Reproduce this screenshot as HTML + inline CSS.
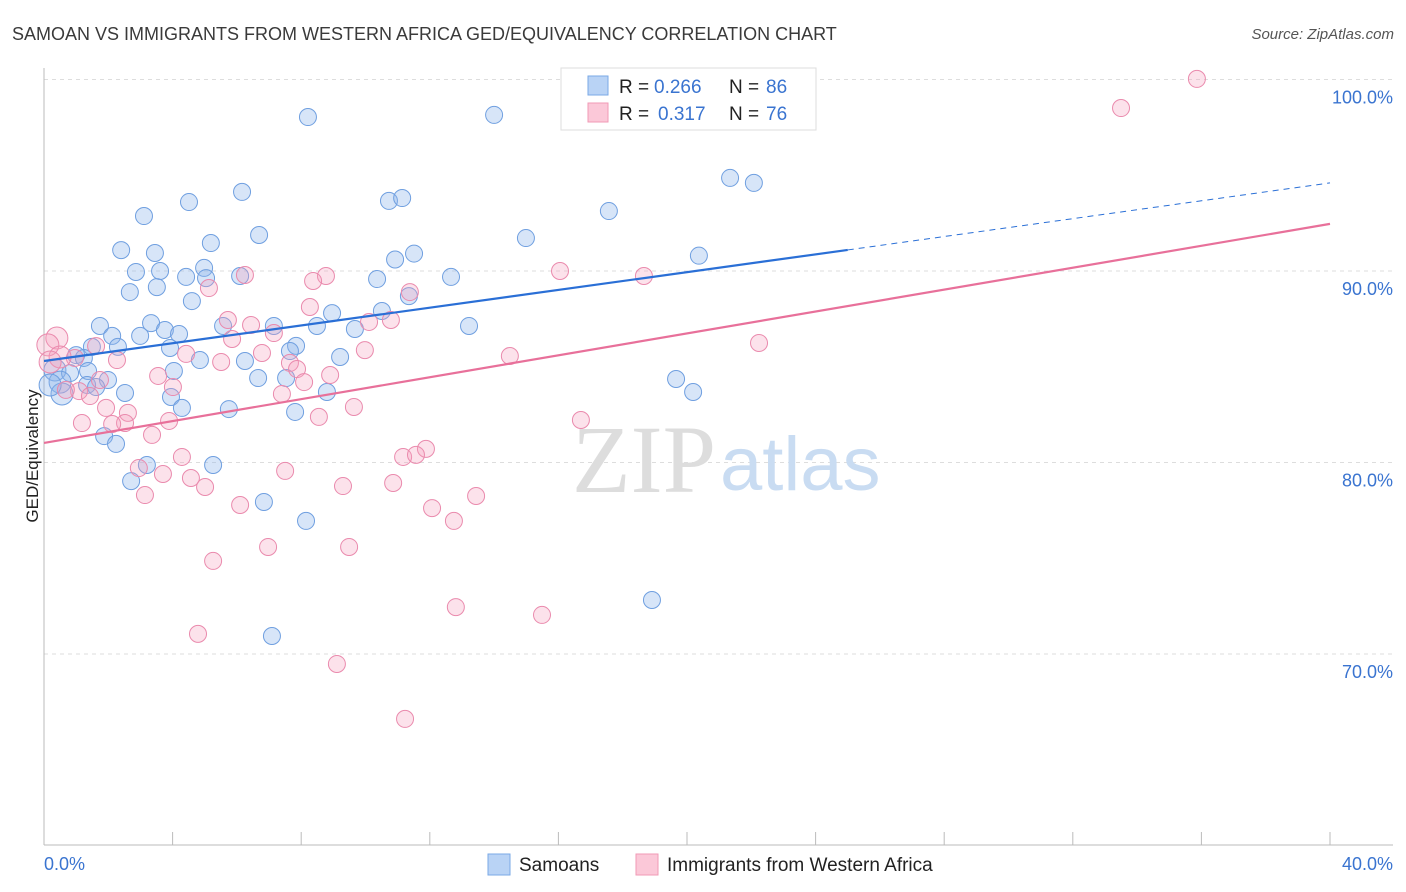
<!DOCTYPE html>
<html><head><meta charset="utf-8"><style>
body{margin:0;background:#fff;font-family:"Liberation Sans",sans-serif;}
svg{display:block}
</style></head><body>
<svg id="chart" width="1406" height="892">
<text x="12" y="40" font-size="18" fill="#3a3a3a">SAMOAN VS IMMIGRANTS FROM WESTERN AFRICA GED/EQUIVALENCY CORRELATION CHART</text>
<text x="1394" y="39" font-size="15" fill="#555" font-style="italic" text-anchor="end">Source: ZipAtlas.com</text>
<text x="38" y="456" font-size="17" fill="#222" text-anchor="middle" transform="rotate(-90 38 456)">GED/Equivalency</text>
<g id="grid"></g>
<text x="716" y="492" font-size="96" fill="#ddd" text-anchor="end" font-family="Liberation Serif,serif">ZIP</text>
<text x="720" y="490" font-size="76" fill="#c9dcf2">atlas</text>
<g id="pts"></g>
<g id="lines"></g>
<g>
<rect x="561" y="68" width="255" height="62" fill="#fff" stroke="#ddd"/>
<rect x="588" y="76" width="20" height="19" fill="#b9d3f5" stroke="#7aa8e6"/>
<rect x="588" y="103" width="20" height="19" fill="#fbc8d8" stroke="#f09ab6"/>
<text x="619" y="93" font-size="19" fill="#222">R =</text>
<text x="654" y="93" font-size="19" fill="#3a74d0">0.266</text>
<text x="729" y="93" font-size="19" fill="#222">N =</text>
<text x="766" y="93" font-size="19" fill="#3a74d0">86</text>
<text x="619" y="120" font-size="19" fill="#222">R =</text>
<text x="658" y="120" font-size="19" fill="#3a74d0">0.317</text>
<text x="729" y="120" font-size="19" fill="#222">N =</text>
<text x="766" y="120" font-size="19" fill="#3a74d0">76</text>
</g>
<g>
<rect x="488" y="854" width="22" height="21" fill="#b9d3f5" stroke="#7aa8e6"/>
<text x="519" y="871" font-size="19" fill="#222">Samoans</text>
<rect x="636" y="854" width="22" height="21" fill="#fbc8d8" stroke="#f09ab6"/>
<text x="667" y="871" font-size="19" fill="#222">Immigrants from Western Africa</text>
</g>
</svg>
<script>
const blueX=[8.21,14.0,21.34,22.08,6.16,4.51,10.73,11.14,3.11,17.57,6.69,14.99,2.40,3.45,5.19,10.92,11.51,20.37,2.86,3.61,4.42,4.98,5.04,6.10,10.36,12.66,2.67,3.51,4.60,11.35,8.96,10.51,1.74,3.33,3.76,4.20,5.57,7.15,8.49,13.22,9.67,2.12,2.99,1.49,2.30,3.92,7.84,7.65,1.0,1.24,4.85,6.25,9.21,0.34,0.81,1.37,4.04,6.66,7.53,19.66,0.5,1.99,1.34,1.62,2.52,3.95,8.8,20.19,4.29,5.75,7.81,0.56,1.87,2.24,3.2,5.26,2.71,6.84,8.15,18.91,7.09,0.19];
const blueY=[98.04,98.15,94.86,94.6,94.13,93.6,93.66,93.81,92.87,93.13,91.88,91.72,91.09,90.94,91.46,90.6,90.91,90.8,89.95,90.0,89.69,90.16,89.63,89.74,89.58,89.69,88.9,89.16,88.43,88.69,87.8,87.91,87.13,87.28,86.92,86.71,87.13,87.13,87.13,87.13,86.97,86.61,86.61,86.04,86.04,85.98,86.09,85.82,85.61,85.46,85.35,85.3,85.51,84.83,84.67,84.78,84.78,84.41,84.41,84.36,84.2,84.31,84.05,83.94,83.63,83.42,83.68,83.68,82.85,82.79,82.64,83.58,81.38,80.97,79.87,79.87,79.03,77.94,76.95,72.82,70.94,84.05];
const pinkX=[35.86,33.5,16.05,18.66,8.77,8.37,6.25,5.13,11.38,8.27,5.72,10.11,10.79,6.44,7.15,0.4,5.85,1.62,9.98,22.24,14.49,0.96,2.27,4.42,5.51,6.78,7.65,7.87,8.9,3.55,4.01,8.09,1.09,1.93,2.61,9.64,7.4,8.55,16.7,3.89,1.18,2.52,2.12,3.36,4.29,11.88,11.17,11.57,2.95,3.7,4.57,5.01,10.86,9.3,13.44,12.07,3.14,6.1,12.75,7.5,6.97,9.49,5.26,12.81,15.49,4.79,9.11,11.23,0.12,0.5,0.68,1.43,1.74,0.19];
const pinkY=[100.03,98.51,90.0,89.74,89.74,89.48,89.79,89.11,88.9,88.12,87.44,87.34,87.44,87.18,86.76,86.5,86.45,86.08,85.87,86.24,85.56,85.46,85.35,85.67,85.25,85.72,85.2,84.88,84.57,84.52,83.94,84.2,83.73,82.85,82.59,82.9,83.58,82.38,82.22,82.17,82.06,82.06,82.01,81.44,80.29,80.71,80.29,80.4,79.71,79.4,79.19,78.72,78.93,78.77,78.25,77.62,78.3,77.78,76.95,79.56,75.59,75.59,74.86,72.45,72.04,71.05,69.48,66.61,86.14,85.51,83.79,83.47,84.31,85.25];
const yTicks=[100,90,80,70];
const yTickLabels=["100.0%","90.0%","80.0%","70.0%"];
const xTicks=[0,4,8,12,16,20,24,28,32,36,40];
const blueTrend=[85.3,91.1,94.6];
const pinkTrend=[81.02,92.46];

const NS="http://www.w3.org/2000/svg";
const sx=v=>44+v*32.15;
const sy=v=>79.5+(100-v)*19.15;
function mk(t,a,p){const e=document.createElementNS(NS,t);for(const k in a)e.setAttribute(k,a[k]);p.appendChild(e);return e;}
const grid=document.getElementById('grid');
yTicks.forEach((t,i)=>{
  const l=mk('line',{x1:44,x2:1393,y1:sy(t),y2:sy(t),stroke:'#ddd','stroke-dasharray':'4,4'},grid);
  
  
  const tx=mk('text',{x:1393,y:sy(t)+24,'font-size':18,fill:'#3a74d0','text-anchor':'end'},grid);
  tx.textContent=yTickLabels[i];
  
  
});
mk('line',{x1:44,x2:44,y1:68,y2:845,stroke:'#bbb'},grid);
mk('line',{x1:44,x2:1393,y1:845,y2:845,stroke:'#bbb'},grid);
xTicks.forEach(t=>{
  const l=mk('line',{x1:sx(t),x2:sx(t),y1:832,y2:845,stroke:'#bbb'},grid);
  
  
});
const x0=mk('text',{x:44,y:870,'font-size':18,fill:'#3a74d0'},grid);x0.textContent='0.0%';


const x1=mk('text',{x:1393,y:870,'font-size':18,fill:'#3a74d0','text-anchor':'end'},grid);x1.textContent='40.0%';


const pts=document.getElementById('pts');
function draw(X,Y,fill,stroke,name){
  X.forEach((x,i)=>{
    const r=x<0.6?11:8.5;
    const c=mk('circle',{cx:sx(x),cy:sy(Y[i]),r:r,fill:fill,stroke:stroke,'stroke-width':1},pts);
    
    
  });
}
draw(blueX,blueY,'rgba(140,180,235,0.35)','#6f9fe0','samoan-point');
draw(pinkX,pinkY,'rgba(245,160,190,0.3)','#ea8aad','immigrant-point');
const lines=document.getElementById('lines');
let l1=mk('line',{x1:sx(0),y1:sy(blueTrend[0]),x2:sx(25),y2:sy(blueTrend[1]),stroke:'#2a6fd6','stroke-width':2.2},lines);


let l2=mk('line',{x1:sx(25),y1:sy(blueTrend[1]),x2:sx(40),y2:sy(blueTrend[2]),stroke:'#2a6fd6','stroke-width':1,'stroke-dasharray':'6,5'},lines);


let l3=mk('line',{x1:sx(0),y1:sy(pinkTrend[0]),x2:sx(40),y2:sy(pinkTrend[1]),stroke:'#e8709a','stroke-width':2.2},lines);


</script>
</body></html>
